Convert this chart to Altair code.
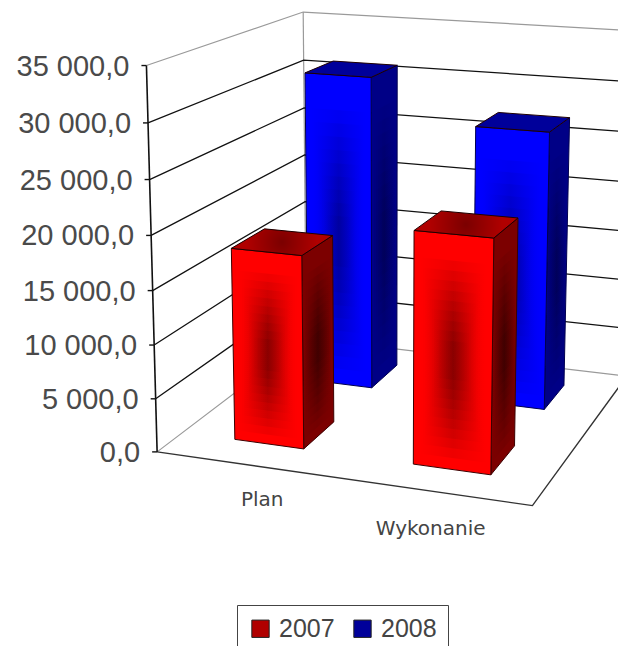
import numpy as np
import altair as alt

CATEGORIES = ["Plan", "Wykonanie"]
CATEGORY_SHIFT = [(17, 36), (-2, 38)]
SERIES = ["2007", "2008"]
VALUES_2007 = [18000, 21250]
VALUES_2008 = [31000, 27000]
AXIS_TICKS = [0, 5000, 10000, 15000, 20000, 25000, 30000, 35000]
AXIS_LABELS = ["0,0", "5 000,0", "10 000,0", "15 000,0", "20 000,0", "25 000,0", "30 000,0", "35 000,0"]
AXIS_MAX = 35000
U_SPANS = [(0.15, 0.345), (0.645, 0.85)]
V_SPANS = {"2007": (0.15, 0.36), "2008": (0.65, 0.86)}

# camera: screen position of known corners of the plot box
CORNERS = [
    ((0, 0, 0), (158, 452)), ((1, 0, 0), (533, 505)), ((1, 1, 0), (627, 377)), ((0, 1, 0), (305, 338)),
    ((0, 0, 1), (145, 66)), ((0, 1, 1), (305, 12)), ((1, 1, 1), (636, 30.5)),
]
M = []
for (a, b, c), (X, Y) in CORNERS:
    M.append([a, b, c, 1, 0, 0, 0, 0, -X * a, -X * b, -X * c, -X])
    M.append([0, 0, 0, 0, a, b, c, 1, -Y * a, -Y * b, -Y * c, -Y])
P = np.linalg.svd(np.array(M, float))[2][-1].reshape(3, 4)


def pr(u, v, w, dx=0.0):
    q = P @ np.array([u, v, w, 1.0])
    return [float(q[0] / q[2] - 8 + dx), float(q[1] / q[2] - 8)]


def poly(pts):
    ring = [pr(*p) for p in pts]
    return {"type": "Feature", "properties": {}, "geometry": {"type": "Polygon", "coordinates": [ring + [ring[0]]]}}


def line(pts, dx=0.0):
    return {"type": "Feature", "properties": {}, "geometry": {"type": "LineString", "coordinates": [pr(*p, dx=dx) for p in pts]}}


PROJ = alt.Projection(type="identity", scale=1, translate=[0, 0])
layers = []


def lines(feats, color, width):
    layers.append(alt.Chart(alt.InlineData(values=feats)).mark_geoshape(filled=False, stroke=color, strokeWidth=width).project(**PROJ.to_dict()))


def fills(feats, fill, stroke="transparent", sw=0.0):
    layers.append(alt.Chart(alt.InlineData(values=feats)).mark_geoshape(fill=fill, stroke=stroke, strokeWidth=sw).project(**PROJ.to_dict()))


def hgrad(inset, alpha):
    return {"gradient": "linear", "x1": 0, "y1": 0, "x2": 1, "y2": 0, "stops": [
        {"offset": 0, "color": "rgba(0,0,0,0)"},
        {"offset": inset, "color": "rgba(0,0,0,0)"},
        {"offset": 0.5, "color": f"rgba(0,0,0,{alpha})"},
        {"offset": 1 - inset, "color": "rgba(0,0,0,0)"},
        {"offset": 1, "color": "rgba(0,0,0,0)"},
    ]}


# walls and floor
grid_vals = AXIS_TICKS[1:-1]
lines([line([(0, 0, 0), (0, 1, 0), (1, 1, 0)]), line([(0, 0, 1), (0, 1, 1), (1, 1, 1)]), line([(0, 1, 0), (0, 1, 1)])], "#9a9a9a", 1.2)
lines([line([(0, 0, t / AXIS_MAX), (0, 1, t / AXIS_MAX), (1, 1, t / AXIS_MAX)]) for t in grid_vals], "#111111", 1.3)
lines([line([(0, 0, 0), (1, 0, 0), (1, 1, 0)])], "#333333", 1.4)
lines([line([(0, 0, 0), (0, 0, 1)])], "#111111", 1.6)
lines([{"type": "Feature", "properties": {}, "geometry": {"type": "LineString", "coordinates": [pr(0, 0, t / AXIS_MAX, dx=-5), pr(0, 0, t / AXIS_MAX)]}} for t in AXIS_TICKS], "#111111", 1.4)

STYLE = {
    "2008": dict(front="#0000ff", side="#000086", edge="#000050", af=0.05, asd=0.045),
    "2007": dict(front="#ff0000", side="#7c0000", edge="#3c0000", af=0.068, asd=0.07),
}
TOPS = []
N = 9
MID = 0.47
for s, vals in (("2008", VALUES_2008), ("2007", VALUES_2007)):
    st = STYLE[s]
    v0, v1 = V_SPANS[s]
    fronts, sides, tops = [], [], []
    over_f = [[] for _ in range(N)]
    over_s = [[] for _ in range(N)]
    for (u0, u1), val in zip(U_SPANS, vals):
        w = val / AXIS_MAX
        fronts.append(poly([(u0, v0, 0), (u1, v0, 0), (u1, v0, w), (u0, v0, w)]))
        sides.append(poly([(u1, v0, 0), (u1, v1, 0), (u1, v1, w), (u1, v0, w)]))
        t = poly([(u0, v0, w), (u1, v0, w), (u1, v1, w), (u0, v1, w)])
        t["properties"]["series"] = s
        tops.append(t)
        for k in range(N):
            h = 0.42 - 0.38 * k / N
            lo, hi = w * (MID - h), w * (MID + h)
            over_f[k].append(poly([(u0, v0, lo), (u1, v0, lo), (u1, v0, hi), (u0, v0, hi)]))
            over_s[k].append(poly([(u1, v0, lo), (u1, v1, lo), (u1, v1, hi), (u1, v0, hi)]))
    fills(sides, st["side"], st["edge"], 1.0)
    for k in range(N):
        fills(over_s[k], hgrad(0.05, st["asd"]))
    fills(fronts, st["front"], st["edge"], 1.0)
    for k in range(N):
        fills(over_f[k], hgrad(0.08 + 0.025 * k, st["af"]))
    TOPS.append(tops)

color = alt.Color(
    "properties.series:N",
    scale=alt.Scale(domain=SERIES, range=["#b00000", "#00009a"]),
    legend=alt.Legend(
        title=None, orient="none", legendX=229, legendY=597, direction="horizontal", columns=2,
        symbolType="square", symbolSize=300, symbolStrokeColor="#222222", symbolStrokeWidth=1, symbolOpacity=1,
        labelFontSize=25, labelFont="Liberation Sans", labelColor="#444444", labelOffset=6,
        strokeColor="#444444", padding=11, columnPadding=15, fillColor="white",
    ),
)
tops_all = TOPS[0] + TOPS[1]
base_tops = alt.Chart(alt.InlineData(values=tops_all)).mark_geoshape(strokeWidth=1, stroke="#200000").encode(color=color).project(**PROJ.to_dict())
layers.append(base_tops)
rad = {"gradient": "radial", "x1": 0.5, "y1": 0.5, "x2": 0.5, "y2": 0.5, "r1": 0, "r2": 0.35, "stops": [
    {"offset": 0, "color": "rgba(0,0,0,0.3)"}, {"offset": 1, "color": "rgba(0,0,0,0)"}]}
fills(TOPS[1], rad)

# text
ticktext = [dict(px=pr(0, 0, t / AXIS_MAX, dx=-17)[0], py=pr(0, 0, t / AXIS_MAX)[1] + 1, t=l) for t, l in zip(AXIS_TICKS, AXIS_LABELS)]
layers.append(alt.Chart(alt.InlineData(values=ticktext)).mark_text(align="right", baseline="middle", font="Liberation Sans", fontSize=29, color="#4a4a4a").encode(
    x=alt.X("px:Q", scale=None), y=alt.Y("py:Q", scale=None), text="t:N"))
cats = []
for c, (u0, u1), (sx, sy) in zip(CATEGORIES, U_SPANS, CATEGORY_SHIFT):
    q = pr((u0 + u1) / 2, 0, 0)
    cats.append(dict(px=q[0] + sx, py=q[1] + sy, t=c))
layers.append(alt.Chart(alt.InlineData(values=cats)).mark_text(align="center", baseline="middle", font="DejaVu Sans", fontSize=20, color="#444444").encode(
    x=alt.X("px:Q", scale=None), y=alt.Y("py:Q", scale=None), text="t:N"))

chart = alt.layer(*layers).properties(width=610, height=638, padding=0, autosize="none").configure_view(stroke=None)
chart.save("out.html", embed_options={"renderer": "svg", "actions": False})
